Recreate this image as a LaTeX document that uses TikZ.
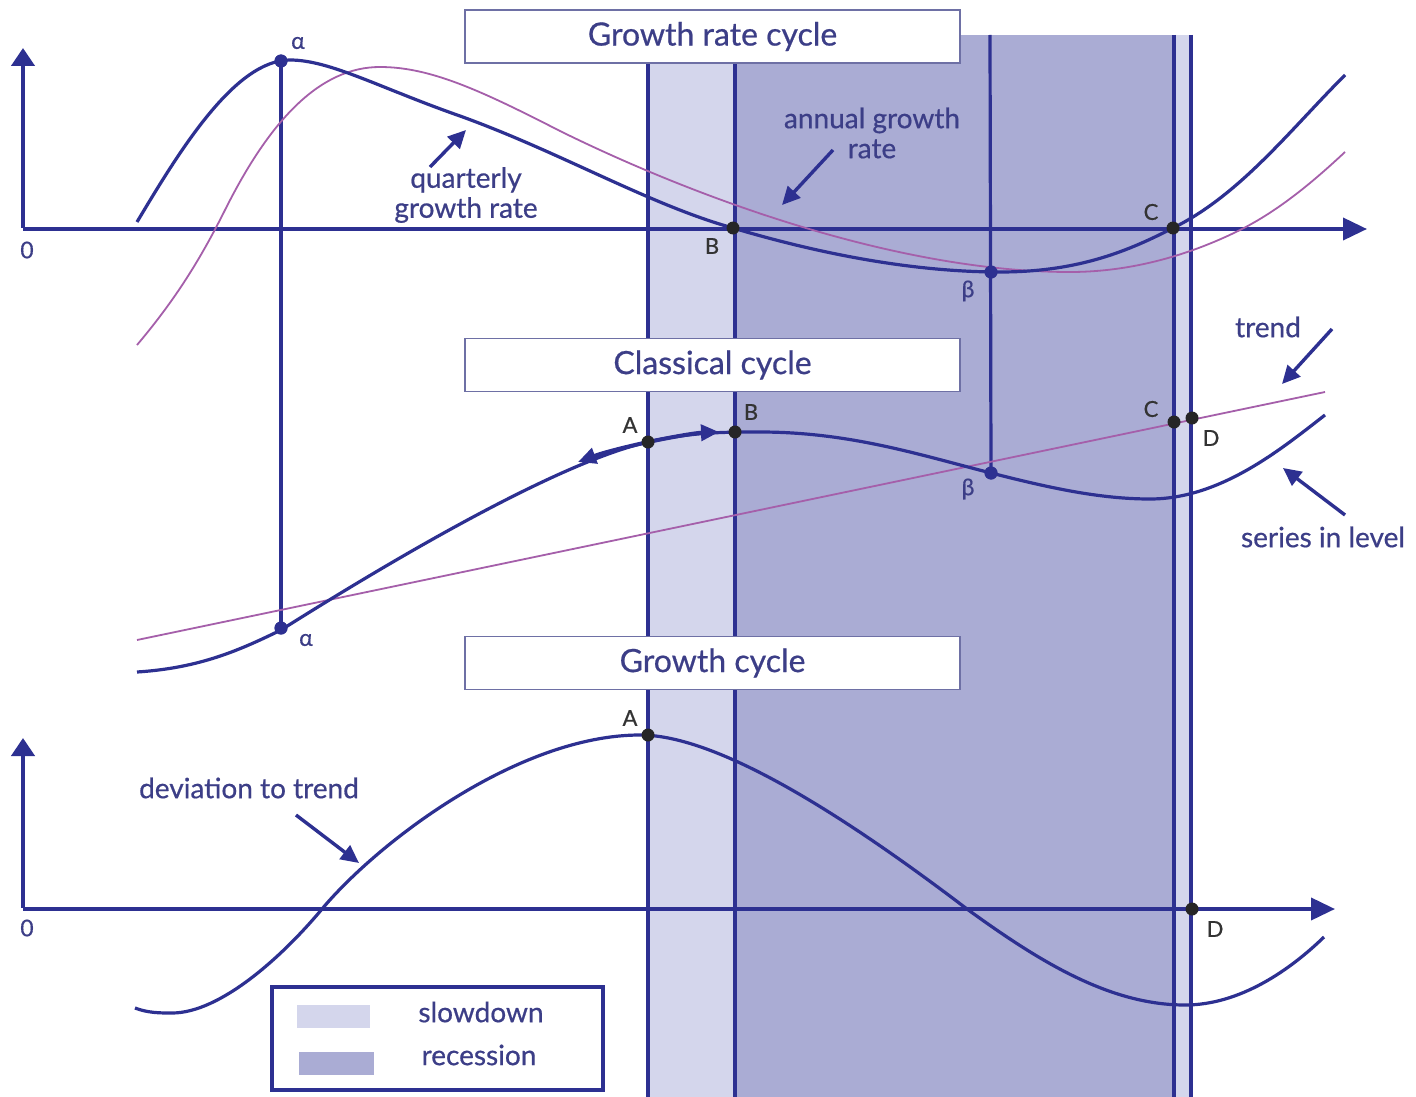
\documentclass[tikz,border=0pt]{standalone}
\usepackage{fontspec}
\setmainfont{Lato}[FakeBold=0.6]
\usetikzlibrary{arrows.meta}
\definecolor{cblue}{RGB}{45,48,145}
\definecolor{cpurple}{RGB}{165,95,170}
\definecolor{ctext}{RGB}{60,62,135}
\definecolor{slowc}{RGB}{212,214,236}
\definecolor{recc}{RGB}{170,172,212}
\definecolor{boxline}{RGB}{110,112,165}
\begin{document}
\begin{tikzpicture}[x=1pt,y=-1pt,
  curveq/.style={cblue,line width=3.2pt,line join=round},
  curvep/.style={cpurple,line width=1.8pt,line join=round},
  vline/.style={cblue,line width=3.2pt},
  axisx/.style={cblue,line width=3.8pt,-{Triangle[length=24pt,width=22pt]}},
  axisy/.style={cblue,line width=4.2pt,-{Triangle[length=18pt,width=23pt]}},
  ann/.style={cblue,line width=3.4pt,-{Triangle[length=18pt,width=17pt]}},
  anntext/.style={text=ctext,font=\fontsize{28}{30}\selectfont,align=center,inner sep=0pt},
  titlebox/.style={draw=boxline,line width=1.6pt,fill=white,minimum width=495pt,minimum height=53pt,inner sep=0pt,text=ctext,font=\fontsize{32}{36}\selectfont},
  dotk/.style={circle,fill=black!85,inner sep=0pt,minimum size=13pt},
  dotc/.style={circle,fill=cblue,inner sep=0pt,minimum size=13pt},
  lab/.style={text=black!80,font=\fontsize{22}{24}\selectfont,inner sep=0pt},
  glab/.style={text=ctext,font=\fontsize{23}{24}\selectfont,inner sep=0pt},
]
\useasboundingbox (0,0) rectangle (1416,1097);
\fill[white] (0,0) rectangle (1416,1097);
% shading
\fill[slowc] (648,35) rectangle (735,1097);
\fill[recc] (735,35) rectangle (1174,1097);
\fill[slowc] (1174,35) rectangle (1191,1097);
% named points
\coordinate (vAtop) at (648,62);
\coordinate (vAbot) at (648,1097);
\coordinate (vBtop) at (735,62);
\coordinate (vBbot) at (735,1097);
\coordinate (vbetatop) at (990,35);
\coordinate (vCtop) at (1174,35);
\coordinate (vCbot) at (1174,1097);
\coordinate (vDtop) at (1191,35);
\coordinate (vDbot) at (1191,1097);
\node[dotc] (alphaT) at (281,61) {};
\node[dotc] (alphaM) at (281,628) {};
\node[dotc] (betaT) at (991,272) {};
\node[dotc] (betaM) at (991,473) {};
% vertical lines
\draw[vline] (vAtop) -- (vAbot);
\draw[vline] (vBtop) -- (vBbot);
\draw[vline] (vCtop) -- (vCbot);
\draw[vline] (vDtop) -- (vDbot);
\draw[vline] (vbetatop) -- (betaM.center);
\draw[vline] (alphaT.center) -- (alphaM.center);
% axes
\coordinate (O1) at (23,229);
\coordinate (Y1) at (23,48);
\coordinate (X1) at (1367,229);
\coordinate (O3) at (23,909);
\coordinate (Y3) at (23,738);
\coordinate (X3) at (1335,909);
\draw[axisx] (O1) -- (X1);
\draw[axisy] ([yshift=1.5pt]O1) -- (Y1);
\draw[axisx] (O3) -- (X3);
\draw[axisy] ([yshift=1.5pt]O3) -- (Y3);
% growth rate curves
\draw[curvep] (137,345) .. controls (175,300) and (200,260) .. (225,210)
  .. controls (270,120) and (320,67) .. (380,67)
  .. controls (430,67) and (480,90) .. (560,131)
  .. controls (700,200) and (900,272) .. (1070,272)
  .. controls (1140,272) and (1200,250) .. (1240,230)
  .. controls (1280,210) and (1315,180) .. (1345,152);
\draw[curveq] (137,222) .. controls (180,150) and (235,60) .. (290,60)
  .. controls (330,60) and (380,88) .. (460,116)
  .. controls (560,152) and (650,205) .. (733,228)
  .. controls (800,248) and (900,272) .. (1000,272)
  .. controls (1080,272) and (1130,250) .. (1173,228)
  .. controls (1240,195) and (1290,130) .. (1345,75);
% classical cycle
\coordinate (tr1) at (137,640);
\coordinate (tr2) at (1325,392);
\draw[curvep] (tr1) -- (tr2);
\draw[curveq] (137,672) .. controls (200,668) and (240,650) .. (281,630)
  .. controls (400,555) and (560,462) .. (648,442)
  .. controls (690,432.5) and (720,432) .. (760,432)
  .. controls (850,432) and (920,455) .. (991,473)
  .. controls (1050,488) and (1100,499) .. (1150,499)
  .. controls (1220,499) and (1280,450) .. (1325,415);
\coordinate (dA1) at (578,462);
\coordinate (dA2) at (719,432);
\draw[cblue,line width=4pt,{Triangle[length=18pt,width=16pt]}-{Triangle[length=18pt,width=16pt]}] (dA1) .. controls (605,452) and (630,446) .. (648,442) .. controls (672,437) and (695,433) .. (dA2);
% growth cycle
\draw[curveq] (135,1008) .. controls (148,1013) and (160,1013) .. (172,1013)
  .. controls (220,1013) and (282,957) .. (322,909)
  .. controls (380,840) and (520,735) .. (640,735)
  .. controls (720,735) and (850,820) .. (967,909)
  .. controls (1040,962) and (1110,1005) .. (1185,1005)
  .. controls (1240,1005) and (1290,970) .. (1324,937);
% title boxes
\node[titlebox] (t1) at (712.5,36.5) {Growth rate cycle};
\node[titlebox] (t2) at (712.5,365) {Classical cycle};
\node[titlebox] (t3) at (712.5,663) {Growth cycle};
% dots
\node[dotk] (Bt) at (733,228) {};
\node[dotk] (Ct) at (1173,228) {};
\node[dotk] (Am) at (648,442) {};
\node[dotk] (Bm) at (735,432) {};
\node[dotk] (Cm) at (1174,422) {};
\node[dotk] (Dm) at (1192,418) {};
\node[dotk] (Ab) at (648,735) {};
\node[dotk] (Db) at (1192,909) {};
\node[dotc] at (alphaT) {};
\node[dotc] at (alphaM) {};
\node[dotc] at (betaT) {};
\node[dotc] at (betaM) {};
% point labels
\node[glab] (la1) at (298,43) {α};
\node[glab] (la2) at (306,640) {α};
\node[glab] (lb1) at (968,291) {β};
\node[glab] (lb2) at (968,489) {β};
\node[lab] (lBt) at (712,246) {B};
\node[lab] (lCt) at (1151,212) {C};
\node[lab] (lAm) at (630,425) {A};
\node[lab] (lBm) at (751,412) {B};
\node[lab] (lCm) at (1151,409) {C};
\node[lab] (lDm) at (1211,438) {D};
\node[lab] (lAb) at (630,718) {A};
\node[lab] (lDb) at (1215,929) {D};
\node[glab] (z1) at (27,250) {0};
\node[glab] (z3) at (27,928) {0};
% annotations
\node[anntext] (qtext) at (466,195) {quarterly\\growth rate};
\coordinate (qa1) at (430,167);
\coordinate (qa2) at (466,130);
\draw[ann] (qa1) -- (qa2);
\node[anntext] (atext) at (872,133) {annual growth\\rate};
\coordinate (aa1) at (833,150);
\coordinate (aa2) at (782,205);
\draw[ann] (aa1) -- (aa2);
\node[anntext] (ttext) at (1268,327) {trend};
\coordinate (ta1) at (1332,329);
\coordinate (ta2) at (1282,384);
\draw[ann] (ta1) -- (ta2);
\node[anntext] (stext) at (1323,537) {series in level};
\coordinate (sa1) at (1345,515);
\coordinate (sa2) at (1283,468);
\draw[ann] (sa1) -- (sa2);
\node[anntext] (dtext) at (249,788) {deviation to trend};
\coordinate (da1) at (296,815);
\coordinate (da2) at (359,863);
\draw[ann] (da1) -- (da2);
% legend
\draw[cblue,line width=4pt] (272,987) rectangle (603,1090);
\fill[slowc] (297,1005) rectangle (370,1028);
\fill[recc] (299,1052) rectangle (374,1075);
\node[anntext] (lslow) at (481,1012) {slowdown};
\node[anntext] (lrec) at (479,1055) {recession};
\end{tikzpicture}
\end{document}
